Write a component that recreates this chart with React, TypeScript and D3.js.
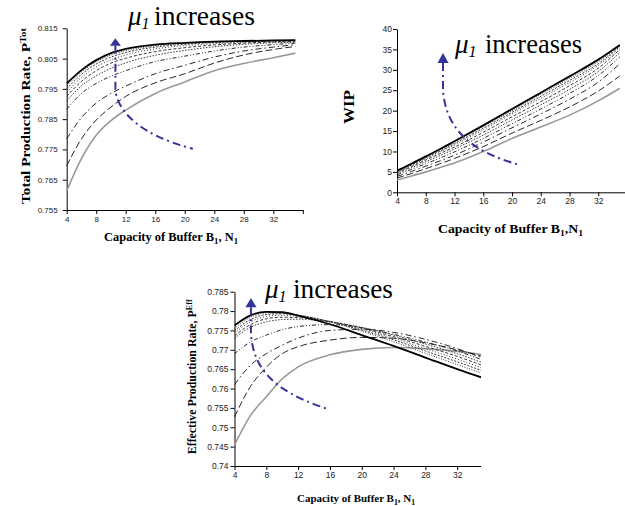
import { useEffect, useRef } from "react";
import * as d3 from "d3";

// buffer capacities N1 at which the curves were read
const bufferSizes = [4, 6, 8, 10, 12, 16, 20, 24, 28, 32, 35];
const xTickValues = [4, 8, 12, 16, 20, 24, 28, 32, 36];

// one row per mu1 value, lowest (grey) first, highest (black) last
const totalRate = [
    [0.7613, 0.772, 0.7797, 0.7845, 0.788, 0.7935, 0.7973, 0.801, 0.8034, 0.8053, 0.8068],
    [0.7696, 0.7785, 0.7847, 0.789, 0.7925, 0.797, 0.8, 0.8035, 0.8062, 0.808, 0.809],
    [0.7785, 0.7855, 0.7903, 0.7935, 0.7959, 0.8, 0.8028, 0.8055, 0.8075, 0.8088, 0.8096],
    [0.7883, 0.7935, 0.7968, 0.7992, 0.801, 0.804, 0.8058, 0.8075, 0.8088, 0.8096, 0.8101],
    [0.791, 0.796, 0.7993, 0.8018, 0.8036, 0.8061, 0.8077, 0.8089, 0.8097, 0.8102, 0.8104],
    [0.7925, 0.7975, 0.801, 0.8035, 0.8051, 0.8073, 0.8086, 0.8095, 0.8101, 0.8105, 0.8106],
    [0.7938, 0.7988, 0.8022, 0.8046, 0.8062, 0.8082, 0.8093, 0.8099, 0.8104, 0.8107, 0.8108],
    [0.795, 0.7998, 0.8032, 0.8055, 0.807, 0.8088, 0.8097, 0.8103, 0.8106, 0.8108, 0.8109],
    [0.796, 0.8006, 0.8039, 0.8062, 0.8076, 0.8092, 0.81, 0.8105, 0.8107, 0.8109, 0.811],
    [0.7968, 0.8012, 0.8045, 0.8068, 0.8082, 0.8096, 0.8102, 0.8106, 0.8108, 0.811, 0.8111],
];

const wipLevels = [
    [3.0, 4.0, 5.0, 6.1, 7.2, 10.0, 13.2, 16.0, 18.9, 22.4, 25.5],
    [3.5, 4.6, 5.8, 7.0, 8.3, 11.2, 14.5, 17.6, 20.9, 24.8, 28.5],
    [3.9, 5.1, 6.4, 7.7, 9.1, 12.3, 15.8, 19.2, 22.8, 27.0, 31.5],
    [4.3, 5.6, 7.0, 8.4, 9.9, 13.2, 16.8, 20.4, 24.2, 28.6, 33.2],
    [4.6, 6.0, 7.5, 9.0, 10.6, 14.0, 17.7, 21.4, 25.2, 29.6, 34.2],
    [4.8, 6.3, 7.9, 9.5, 11.1, 14.7, 18.5, 22.2, 26.1, 30.4, 35.0],
    [5.0, 6.6, 8.2, 9.9, 11.6, 15.3, 19.2, 23.0, 26.9, 31.1, 35.4],
    [5.1, 6.7, 8.4, 10.1, 11.9, 15.7, 19.6, 23.5, 27.4, 31.5, 35.7],
    [5.2, 6.9, 8.6, 10.4, 12.2, 16.1, 20.0, 24.0, 27.9, 32.0, 35.9],
    [5.3, 7.0, 8.8, 10.6, 12.5, 16.4, 20.4, 24.4, 28.4, 32.5, 36.1],
];

const effRate = [
    [0.7454, 0.753, 0.7579, 0.7625, 0.7656, 0.7687, 0.7701, 0.7706, 0.7703, 0.7696, 0.7688],
    [0.7527, 0.7605, 0.7655, 0.769, 0.7708, 0.7725, 0.7732, 0.773, 0.7718, 0.77, 0.7684],
    [0.761, 0.766, 0.769, 0.7712, 0.773, 0.775, 0.7753, 0.7745, 0.7727, 0.7703, 0.768],
    [0.769, 0.772, 0.7738, 0.7752, 0.776, 0.7765, 0.7757, 0.774, 0.772, 0.7697, 0.7675],
    [0.773, 0.7758, 0.7772, 0.7778, 0.7779, 0.7772, 0.7758, 0.7738, 0.7715, 0.769, 0.7668],
    [0.7736, 0.7765, 0.778, 0.7784, 0.7783, 0.7773, 0.7756, 0.7734, 0.7709, 0.7683, 0.7661],
    [0.7743, 0.7772, 0.7786, 0.7789, 0.7786, 0.7773, 0.7754, 0.773, 0.7703, 0.7676, 0.7654],
    [0.7749, 0.7778, 0.7791, 0.7793, 0.7789, 0.7773, 0.7751, 0.7726, 0.7697, 0.7669, 0.7647],
    [0.7755, 0.7784, 0.7795, 0.7795, 0.779, 0.7772, 0.7748, 0.7721, 0.7691, 0.7662, 0.764],
    [0.7763, 0.7789, 0.7798, 0.7797, 0.7788, 0.7766, 0.7738, 0.771, 0.768, 0.765, 0.7629],
];

const totalTicks = [0.755, 0.765, 0.775, 0.785, 0.795, 0.805, 0.815];
const wipTicks = [0, 5, 10, 15, 20, 25, 30, 35, 40];
const effTicks = [0.74, 0.745, 0.75, 0.755, 0.76, 0.765, 0.77, 0.775, 0.78, 0.785];

// "mu1 increases" arrows in data units: tip, head base, shaft end, two control points, tail
const totalArrow = [[10.6, 0.8117], [10.6, 0.8092], [10.6, 0.7946], [10.95, 0.7874], [13.9, 0.7798], [21.1, 0.7752]];
const wipArrow = [[10.4, 34.1], [10.4, 31.7], [10.4, 24.9], [10.8, 16.5], [13.5, 10.3], [21.1, 6.7]];
const effArrow = [[6.07, 0.7834], [6.07, 0.781], [6.07, 0.7738], [6.45, 0.7661], [8.2, 0.7597], [15.76, 0.7547]];

const curveStyles = [
    { color: "#999", width: 1.6, dash: null },
    { color: "#111", width: 0.9, dash: "7,3" },
    { color: "#111", width: 0.9, dash: "6,3,1.5,3" },
    { color: "#111", width: 0.9, dash: "4,2,1,2,1,2" },
    { color: "#222", width: 0.9, dash: "1.5,1.5" },
    { color: "#222", width: 0.9, dash: "3,2" },
    { color: "#222", width: 0.9, dash: "1,2" },
    { color: "#222", width: 0.9, dash: "2,1.5" },
    { color: "#222", width: 0.9, dash: "1,1.5" },
    { color: "#000", width: 1.8, dash: null },
];

const serif = "Liberation Serif";
const sans = "Liberation Sans";
const arrowBlue = "#333399";

const panels = [
    {
        series: totalRate, yTicks: totalTicks, yDomain: [0.755, 0.815], arrow: totalArrow,
        x0: 66.7, x1: 302.8, yTop: 28.3, yBottom: 210, tickFont: 8, yPad: 5, clipRight: null,
        yTitle: [{ t: "Total Production Rate, P" }, { t: "Tot", sup: true }],
        yTitleX: 29.5, yTitleY: 116, yTitleLen: 176, yTitleFont: 13,
        xTitle: [{ t: "Capacity of Buffer B" }, { t: "1", sub: true }, { t: ", N" }, { t: "1", sub: true }],
        xTitleX: 171, xTitleY: 241, xTitleLen: 134, xTitleFont: 12,
        muX: 128, muY: 25, wordX: 154, wordLen: 101,
    },
    {
        series: wipLevels, yTicks: wipTicks, yDomain: [0, 40], arrow: wipArrow,
        x0: 397, x1: 627, yTop: 29, yBottom: 192.3, tickFont: 8.5, yPad: 1, clipRight: null,
        yTitle: [{ t: "WIP" }],
        yTitleX: 354, yTitleY: 107, yTitleLen: 34, yTitleFont: 15,
        xTitle: [{ t: "Capacity of Buffer B" }, { t: "1", sub: true }, { t: ",N" }, { t: "1", sub: true }],
        xTitleX: 510.5, xTitleY: 233, xTitleLen: 145, xTitleFont: 13,
        muX: 455, muY: 53, wordX: 485, wordLen: 97,
    },
    {
        series: effRate, yTicks: effTicks, yDomain: [0.74, 0.785], arrow: effArrow,
        x0: 234.5, x1: 489, yTop: 291.7, yBottom: 466, tickFont: 8.5, yPad: 2, clipRight: 481,
        yTitle: [{ t: "Effective Production Rate, P" }, { t: "Eff", sup: true }],
        yTitleX: 196, yTitleY: 376.7, yTitleLen: 155, yTitleFont: 12,
        xTitle: [{ t: "Capacity of Buffer B" }, { t: "1", sub: true }, { t: ", N" }, { t: "1", sub: true }],
        xTitleX: 356, xTitleY: 502, xTitleLen: 118, xTitleFont: 11,
        muX: 265, muY: 298, wordX: 293, wordLen: 100,
    },
];

function addRichText(text, parts) {
    parts.forEach((p, i) => {
        const prev = parts[i - 1];
        let dy = 0;
        if (prev && (prev.sub || prev.sup)) dy = prev.sub ? -3 : 4;
        if (p.sub) dy += 3;
        if (p.sup) dy -= 4;
        text
            .append("tspan")
            .attr("dy", dy)
            .attr("font-size", p.sub || p.sup ? "0.7em" : null)
            .text(p.t);
    });
}

const App = () => {
    const svgRef = useRef(null);

    useEffect(() => {
        const svg = d3.select(svgRef.current);
        svg.selectAll("*").remove();

        panels.forEach((cfg, idx) => {
            const g = svg.append("g");
            if (cfg.clipRight) {
                svg.append("clipPath").attr("id", `clip${idx}`)
                    .append("rect").attr("x", 0).attr("y", 0).attr("width", cfg.clipRight).attr("height", 506);
                g.attr("clip-path", `url(#clip${idx})`);
            }

            const x = d3.scaleLinear().domain([4, 36]).range([cfg.x0, cfg.x1]);
            const y = d3.scaleLinear().domain(cfg.yDomain).range([cfg.yBottom, cfg.yTop]);

            // axes
            const yAxis = g.append("g")
                .attr("transform", `translate(${cfg.x0},0)`)
                .call(d3.axisLeft(y).tickValues(cfg.yTicks).tickSize(4).tickSizeOuter(0)
                    .tickPadding(cfg.yPad).tickFormat((d) => String(+(+d).toFixed(3))));
            const xAxis = g.append("g")
                .attr("transform", `translate(0,${cfg.yBottom})`)
                .call(d3.axisBottom(x).tickValues(xTickValues).tickSize(4).tickSizeOuter(0)
                    .tickPadding(2).tickFormat((d) => (d <= 32 ? String(d) : "")));
            [yAxis, xAxis].forEach((a) => {
                a.attr("font-family", sans).attr("font-size", cfg.tickFont);
                a.selectAll("text").attr("fill", "#222");
                a.select(".domain").attr("stroke", "#000").attr("stroke-width", 1);
                a.selectAll(".tick line").attr("stroke", "#000");
            });

            // curves
            const line = d3.line()
                .x((_, i) => x(bufferSizes[i]))
                .y((d) => y(d))
                .curve(d3.curveMonotoneX);
            cfg.series.forEach((vals, i) => {
                const st = curveStyles[i];
                g.append("path")
                    .attr("d", line(vals))
                    .attr("fill", "none")
                    .attr("stroke", st.color)
                    .attr("stroke-width", st.width)
                    .attr("stroke-dasharray", st.dash);
            });

            // arrow
            const [tip, base, shaftEnd, c1, c2, tail] = cfg.arrow.map(([a, b]) => [x(a), y(b)]);
            const p = d3.path();
            p.moveTo(base[0], base[1]);
            p.lineTo(shaftEnd[0], shaftEnd[1]);
            p.bezierCurveTo(c1[0], c1[1], c2[0], c2[1], tail[0], tail[1]);
            g.append("path")
                .attr("d", p.toString())
                .attr("fill", "none")
                .attr("stroke", arrowBlue)
                .attr("stroke-width", 2)
                .attr("stroke-dasharray", "8,4,2,4");
            g.append("polygon")
                .attr("points", [[tip[0], tip[1]], [tip[0] - 5.5, base[1]], [tip[0] + 5.5, base[1]]].map((q) => q.join(",")).join(" "))
                .attr("fill", arrowBlue);

            // mu1 increases
            const mu = g.append("text")
                .attr("x", cfg.muX)
                .attr("y", cfg.muY)
                .attr("font-family", serif)
                .attr("font-style", "italic")
                .attr("font-size", 27)
                .attr("fill", "#000");
            mu.append("tspan").text("μ");
            mu.append("tspan").attr("font-size", 16).attr("dy", 4).text("1");
            g.append("text")
                .attr("x", cfg.wordX)
                .attr("y", cfg.muY)
                .attr("font-family", serif)
                .attr("font-size", 27)
                .attr("textLength", cfg.wordLen)
                .attr("lengthAdjust", "spacingAndGlyphs")
                .attr("fill", "#000")
                .text("increases");

            // axis titles
            const xt = g.append("text")
                .attr("x", cfg.xTitleX - cfg.xTitleLen / 2)
                .attr("y", cfg.xTitleY)
                .attr("font-family", serif)
                .attr("font-weight", "bold")
                .attr("font-size", cfg.xTitleFont)
                .attr("textLength", cfg.xTitleLen)
                .attr("lengthAdjust", "spacingAndGlyphs");
            addRichText(xt, cfg.xTitle);

            const yt = g.append("text")
                .attr("transform", `translate(${cfg.yTitleX},${cfg.yTitleY + cfg.yTitleLen / 2}) rotate(-90)`)
                .attr("font-family", serif)
                .attr("font-weight", "bold")
                .attr("font-size", cfg.yTitleFont)
                .attr("textLength", cfg.yTitleLen)
                .attr("lengthAdjust", "spacingAndGlyphs");
            addRichText(yt, cfg.yTitle);
        });
    }, []);

    return (
        <svg
            ref={svgRef}
            width="625"
            height="506"
            style={{ position: "absolute", left: 0, top: 0, background: "#fff" }}
        ></svg>
    );
};

export default App;
